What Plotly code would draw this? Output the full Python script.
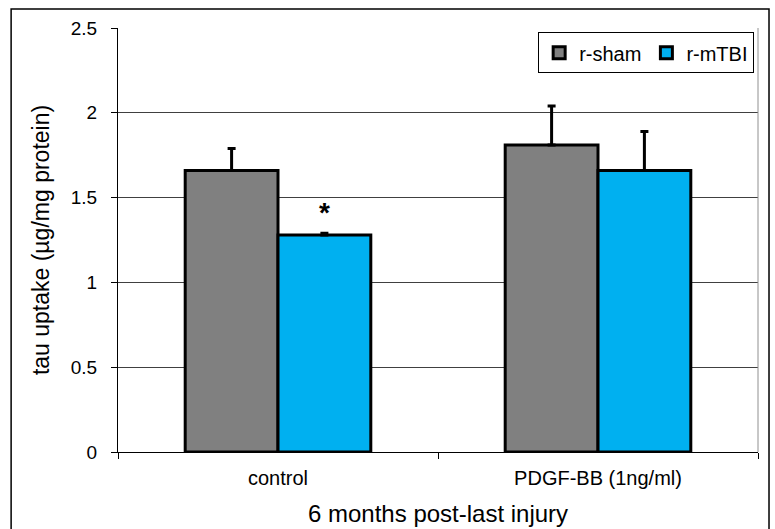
import plotly.graph_objects as go

categories = ["control", "PDGF-BB (1ng/ml)"]
sham_values = [1.66, 1.81]
sham_err = [0.13, 0.23]
mtbi_values = [1.28, 1.66]
mtbi_err = [0.01, 0.23]
y_ticks = [0, 0.5, 1, 1.5, 2, 2.5]
x_title = "6 months post-last injury"

font_family = "Liberation Sans, Arial, sans-serif"

fig = go.Figure()
fig.add_trace(go.Bar(
    x=categories, y=sham_values, name="r-sham",
    marker=dict(color="#808080", line=dict(color="black", width=3)),
    error_y=dict(type="data", array=sham_err, arrayminus=[0, 0], symmetric=False,
                 color="black", thickness=3, width=4),
))
fig.add_trace(go.Bar(
    x=categories, y=mtbi_values, name="r-mTBI",
    marker=dict(color="#00B0F0", line=dict(color="black", width=3)),
    error_y=dict(type="data", array=mtbi_err, arrayminus=[0, 0], symmetric=False,
                 color="black", thickness=3, width=4),
))

fig.update_layout(
    width=775, height=529,
    margin=dict(l=118, r=17, t=28, b=77),
    paper_bgcolor="white", plot_bgcolor="white",
    barmode="group", bargap=0.42, bargroupgap=0,
    font=dict(family=font_family, color="black", size=19),
    showlegend=True,
    legend=dict(
        orientation="h", x=0.994, y=0.99, xanchor="right", yanchor="top",
        bordercolor="black", borderwidth=1, bgcolor="white",
        font=dict(size=20), itemwidth=30, tracegroupgap=0,
    ),
    xaxis=dict(
        type="category", range=[-0.5, 1.5], tickson="boundaries",
        ticks="outside", ticklen=6, tickcolor="black",
        showline=True, linecolor="black", linewidth=1,
        mirror=False, showgrid=False, automargin=False,
        tickfont=dict(size=20), ticklabelstandoff=8,
    ),
    yaxis=dict(
        range=[0, 2.5], tickvals=y_ticks, ticktext=["0", "0.5", "1", "1.5", "2", "2.5"],
        ticks="outside", ticklen=6, tickcolor="black",
        showline=True, linecolor="black", linewidth=1,
        showgrid=True, gridcolor="#404040", gridwidth=1,
        zeroline=False, automargin=False,
        tickfont=dict(size=19), ticklabelstandoff=10,
        title=dict(text="tau uptake (µg/mg protein)", font=dict(size=23), standoff=14),
    ),
    shapes=[
        dict(type="line", xref="paper", yref="paper", x0=1, x1=1, y0=0, y1=1,
             line=dict(color="#909090", width=1)),
        dict(type="rect", xref="paper", yref="paper",
             x0=-0.167, x1=1.0172, y0=-0.25, y1=1.045,
             line=dict(color="black", width=1.5)),
    ],
    annotations=[
        dict(x=0.145, y=1.41, xref="x", yref="y", text="<b>*</b>", showarrow=False,
             font=dict(size=28, color="black")),
        dict(x=0.5, y=-0.144, xref="paper", yref="paper", text=x_title,
             showarrow=False, xanchor="center", yanchor="middle",
             font=dict(size=24, color="black")),
    ],
)

fig.write_html("out.html")
